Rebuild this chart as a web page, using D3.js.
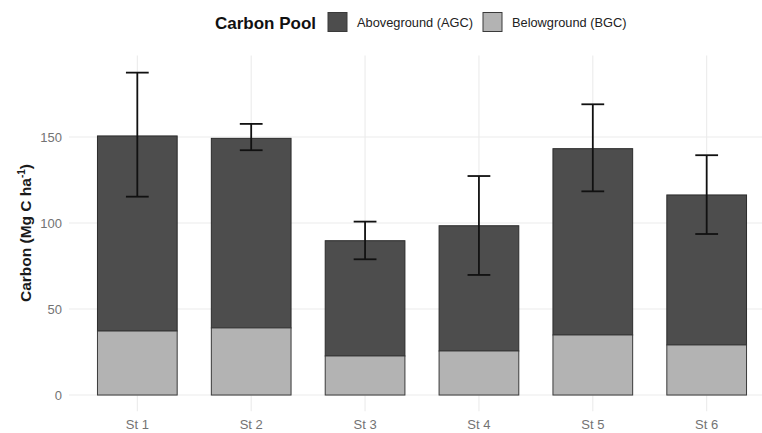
<!DOCTYPE html>
<html>
<head>
<meta charset="utf-8">
<script src="https://cdn.jsdelivr.net/npm/d3@7"></script>
<style>
  body { margin: 0; background: #fff; }
  svg { display: block; font-family: "Liberation Sans", Arial, sans-serif; }
</style>
</head>
<body>
<svg id="chart" width="762" height="433"></svg>
<script>
// data
const stations = ["St 1", "St 2", "St 3", "St 4", "St 5", "St 6"]
const bgc = [37.2, 39.0, 22.7, 25.6, 34.9, 29.1]
const agcTop = [150.6, 149.2, 89.7, 98.4, 143.2, 116.3]   // total = AGC + BGC
const errLow = [115.3, 142.3, 78.9, 69.8, 118.4, 93.6]
const errHigh = [187.4, 157.6, 100.8, 127.3, 169.0, 139.4]
const yTicks = [0, 50, 100, 150]
const poolNames = ["Aboveground (AGC)", "Belowground (BGC)"]
const poolColors = ["#4d4d4d", "#b3b3b3"]

const svg = d3.select("#chart")

// panel (right side runs past the window, like the reference crop)
const pLeft = 69, pRight = 775, pTop = 55.6, pBottom = 411.2

const x = d3.scaleBand()
    .domain(stations)
    .range([pLeft, pRight])
    .paddingInner(0.3)
    .paddingOuter(0.25)

const y = d3.scaleLinear()
    .domain([-9.4, 197.3])
    .range([pBottom, pTop])

// grid
svg.append("g").selectAll("line")
    .data(yTicks)
    .enter()
    .append("line")
    .attr("x1", pLeft).attr("x2", pRight)
    .attr("y1", d => y(d)).attr("y2", d => y(d))
    .attr("stroke", "#ebebeb")
    .attr("stroke-width", 1.1)

svg.append("g").selectAll("line")
    .data(stations)
    .enter()
    .append("line")
    .attr("x1", d => x(d) + x.bandwidth() / 2)
    .attr("x2", d => x(d) + x.bandwidth() / 2)
    .attr("y1", pTop).attr("y2", pBottom)
    .attr("stroke", "#ebebeb")
    .attr("stroke-width", 1.1)

// stacked bars
const rows = stations.map((s, i) => ({ st: s, bgc: bgc[i], total: agcTop[i] }))

svg.append("g").selectAll("rect")
    .data(rows)
    .enter()
    .append("rect")
    .attr("x", d => x(d.st))
    .attr("width", x.bandwidth())
    .attr("y", d => y(d.total))
    .attr("height", d => y(d.bgc) - y(d.total))
    .attr("fill", poolColors[0])
    .attr("stroke", "#2b2b2b")
    .attr("stroke-width", 1)

svg.append("g").selectAll("rect")
    .data(rows)
    .enter()
    .append("rect")
    .attr("x", d => x(d.st))
    .attr("width", x.bandwidth())
    .attr("y", d => y(d.bgc))
    .attr("height", d => y(0) - y(d.bgc))
    .attr("fill", poolColors[1])
    .attr("stroke", "#3a3a3a")
    .attr("stroke-width", 1)

// error bars
const capW = x.step() * 0.2
const eb = svg.append("g").selectAll("g")
    .data(stations)
    .enter()
    .append("g")
    .attr("stroke", "#111")
    .attr("stroke-width", 1.8)
eb.append("line")
    .attr("x1", d => x(d) + x.bandwidth() / 2)
    .attr("x2", d => x(d) + x.bandwidth() / 2)
    .attr("y1", (d, i) => y(errLow[i]))
    .attr("y2", (d, i) => y(errHigh[i]))
eb.append("line")
    .attr("x1", d => x(d) + x.bandwidth() / 2 - capW / 2)
    .attr("x2", d => x(d) + x.bandwidth() / 2 + capW / 2)
    .attr("y1", (d, i) => y(errHigh[i]))
    .attr("y2", (d, i) => y(errHigh[i]))
eb.append("line")
    .attr("x1", d => x(d) + x.bandwidth() / 2 - capW / 2)
    .attr("x2", d => x(d) + x.bandwidth() / 2 + capW / 2)
    .attr("y1", (d, i) => y(errLow[i]))
    .attr("y2", (d, i) => y(errLow[i]))

// axes
const yAxis = svg.append("g")
    .attr("transform", "translate(" + (pLeft - 5) + ",0)")
    .call(d3.axisLeft(y).tickValues(yTicks).tickSize(0).tickPadding(2))
yAxis.select(".domain").remove()
yAxis.selectAll("text")
    .attr("fill", "#737373")
    .attr("font-size", "13px")
    .attr("font-family", "Liberation Sans, Arial, sans-serif")

const xAxis = svg.append("g")
    .attr("transform", "translate(0," + (pBottom + 7) + ")")
    .call(d3.axisBottom(x).tickSize(0).tickPadding(2))
xAxis.select(".domain").remove()
xAxis.selectAll("text")
    .attr("fill", "#737373")
    .attr("font-size", "13px")
    .attr("font-family", "Liberation Sans, Arial, sans-serif")

// y title
const yt = svg.append("text")
    .attr("transform", "translate(30.5,233) rotate(-90)")
    .attr("text-anchor", "middle")
    .attr("font-size", "15.5px")
    .attr("font-weight", "bold")
    .attr("fill", "#1a1a1a")
yt.append("tspan").text("Carbon (Mg C ha")
yt.append("tspan").attr("font-size", "10px").attr("dy", -6).text("-1")
yt.append("tspan").attr("dy", 6).text(")")

// legend
const lg = svg.append("g")
lg.append("text")
    .attr("x", 215).attr("y", 28.5)
    .attr("font-size", "17px")
    .attr("font-weight", "bold")
    .attr("fill", "#111")
    .text("Carbon Pool")
const keyX = [328, 483]
const labX = [357, 512]
poolNames.forEach((n, i) => {
    lg.append("rect")
        .attr("x", keyX[i]).attr("y", 12.5)
        .attr("width", 19).attr("height", 19)
        .attr("fill", poolColors[i])
        .attr("stroke", "#3a3a3a")
        .attr("stroke-width", 1)
    lg.append("text")
        .attr("x", labX[i]).attr("y", 27)
        .attr("font-size", "12.8px")
        .attr("fill", "#222")
        .text(n)
})
</script>
</body>
</html>
